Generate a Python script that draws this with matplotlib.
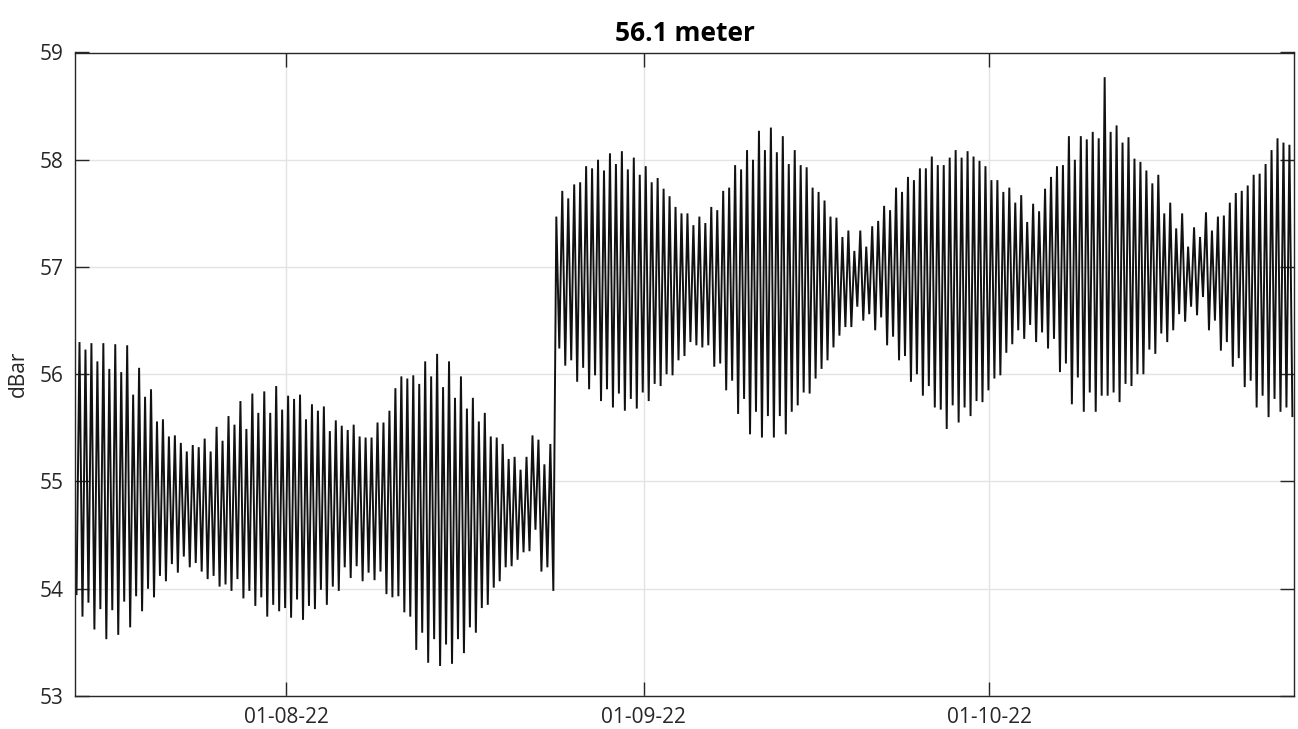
import numpy as np
import pandas as pd
import matplotlib
matplotlib.use("Agg")
import matplotlib.pyplot as plt
import matplotlib.dates as mdates

# Successive tidal turning points (dBar), first deployment: low water first
dep1_lows = [
    53.95, 53.74, 53.87, 53.62, 53.81, 53.53, 53.80, 53.57, 53.88, 53.64,
    53.93, 53.79, 54.00, 53.92, 54.12, 54.07, 54.23, 54.15, 54.30, 54.20,
    54.24, 54.16, 54.09, 54.12, 54.02, 54.04, 53.98,
    54.09, 53.91, 53.98, 53.84, 53.92, 53.74, 53.85, 53.79, 53.82, 53.73,
    53.90, 53.71, 53.84, 53.81, 53.99, 53.85, 54.02, 53.98, 54.20, 54.10,
    54.21, 54.07, 54.15, 54.08, 54.16, 53.95, 53.92,
    53.93, 53.78, 53.74, 53.43, 53.59, 53.31, 53.53, 53.28, 53.48, 53.30,
    53.53, 53.40, 53.64, 53.59, 53.82, 53.85, 54.01, 54.07, 54.20, 54.21,
    54.27, 54.34, 54.35, 54.55, 54.16, 54.20, 53.98,
]
dep1_highs = [
    56.30, 56.23, 56.29, 56.12, 56.29, 56.05, 56.28, 56.02, 56.27, 55.81,
    56.06, 55.79, 55.86, 55.56, 55.58, 55.42, 55.43, 55.36, 55.28, 55.34,
    55.32, 55.40, 55.28, 55.51, 55.38, 55.61, 55.53,
    55.75, 55.49, 55.82, 55.64, 55.84, 55.64, 55.89, 55.67, 55.80, 55.77,
    55.81, 55.58, 55.72, 55.66, 55.70, 55.47, 55.57, 55.52, 55.48, 55.53,
    55.42, 55.41, 55.41, 55.55, 55.55, 55.66, 55.87,
    55.98, 55.96, 55.99, 55.91, 56.12, 55.98, 56.19, 55.88, 56.12, 55.78,
    55.98, 55.68, 55.78, 55.56, 55.64, 55.42, 55.41, 55.35, 55.21, 55.23,
    55.11, 55.23, 55.43, 55.39, 55.16, 55.35,
]

# Second deployment: high water first
dep2_highs = [
    57.47, 57.71, 57.64, 57.77, 57.79, 57.94, 57.92, 58.00, 57.90, 58.06,
    57.96, 58.08, 57.91, 58.02, 57.86, 57.94, 57.79, 57.83, 57.73, 57.66,
    57.56, 57.50, 57.50, 57.39, 57.47, 57.41, 57.56,
    57.53, 57.71, 57.74, 57.95, 57.91, 58.09, 58.00, 58.27, 58.09, 58.30,
    58.07, 58.22, 57.96, 58.09, 57.95, 57.93, 57.74, 57.70, 57.62, 57.47,
    57.46, 57.28, 57.34, 57.15, 57.34, 57.19, 57.38,
    57.43, 57.57, 57.53, 57.74, 57.70, 57.84, 57.81, 57.92, 57.92, 58.03,
    57.95, 57.95, 58.02, 58.09, 58.02, 58.08, 58.03, 57.99, 57.94, 57.81,
    57.81, 57.70, 57.74, 57.60, 57.67, 57.42, 57.59,
    57.52, 57.73, 57.84, 57.94, 57.95, 58.22, 58.00, 58.22, 58.19, 58.26,
    58.20, 58.77, 58.26, 58.32, 58.16, 58.21, 58.01, 57.98, 57.90, 57.78,
    57.86, 57.50, 57.60, 57.36, 57.50, 57.19, 57.37,
    57.28, 57.51, 57.34, 57.47, 57.48, 57.60, 57.69, 57.71, 57.76, 57.86,
    57.87, 57.96, 58.09, 58.20, 58.16, 58.14,
]
dep2_lows = [
    56.24, 56.08, 56.13, 55.93, 56.06, 55.86, 55.99, 55.75, 55.86, 55.69,
    55.82, 55.66, 55.77, 55.68, 55.83, 55.75, 55.91, 55.89, 56.00, 55.99,
    56.13, 56.17, 56.30, 56.27, 56.25, 56.27, 56.07,
    56.10, 55.85, 55.94, 55.63, 55.77, 55.44, 55.65, 55.41, 55.61, 55.41,
    55.61, 55.44, 55.65, 55.71, 55.83, 55.82, 55.96, 56.05, 56.13, 56.25,
    56.36, 56.44, 56.44, 56.63, 56.50, 56.56,
    56.41, 56.53, 56.27, 56.35, 56.13, 56.17, 55.93, 56.00, 55.80, 55.89,
    55.69, 55.67, 55.49, 55.71, 55.55, 55.69, 55.61, 55.75, 55.74, 55.85,
    55.96, 55.99, 56.20, 56.28, 56.41, 56.33, 56.46,
    56.30, 56.39, 56.24, 56.33, 56.02, 56.10, 55.72, 55.97, 55.65, 55.83,
    55.65, 55.80, 55.80, 55.83, 55.74, 55.91, 55.89, 56.00, 56.00, 56.23,
    56.19, 56.38, 56.30, 56.41, 56.56, 56.49, 56.63,
    56.55, 56.72, 56.41, 56.50, 56.22, 56.30, 56.07, 56.15, 55.88, 55.94,
    55.69, 55.80, 55.60, 55.77, 55.65, 55.69, 55.61,
]

title_text = "56.1 meter"
y_label = "dBar"
y_ticks = [53, 54, 55, 56, 57, 58, 59]
date_ticks = ["2022-08-01", "2022-09-01", "2022-10-01"]

# Interleave turning points into one time series
seq1 = []
for i, lo in enumerate(dep1_lows):
    seq1.append(lo)
    if i < len(dep1_highs):
        seq1.append(dep1_highs[i])
seq2 = []
for hi, lo in zip(dep2_highs, dep2_lows):
    seq2.extend([hi, lo])
pressure = np.array(seq1 + seq2)

# Semidiurnal turning points, half an M2 period apart
times = pd.date_range("2022-07-13 18:30", periods=len(pressure),
                      freq=pd.Timedelta(hours=6.21))

plt.rcParams["font.family"] = ["Open Sans", "DejaVu Sans"]
axis_grey = "#262626"

fig = plt.figure(figsize=(12.98, 7.29), dpi=100)
ax = fig.add_axes([75 / 1298, 1 - 696 / 729, (1294 - 75) / 1298, (696 - 52.5) / 729])

ax.plot(times, pressure, color="#111111", lw=1.4, solid_joinstyle="miter")

ax.set_xlim(pd.Timestamp("2022-07-13 15:20"), pd.Timestamp("2022-10-27 11:30"))
ax.set_ylim(53, 59)
ax.set_yticks(y_ticks)
ax.set_xticks(pd.to_datetime(date_ticks))
ax.xaxis.set_major_formatter(mdates.DateFormatter("%d-%m-%y"))

ax.grid(True, color="#e3e3e3", lw=1.0)
ax.set_axisbelow(True)
for s in ax.spines.values():
    s.set_color(axis_grey)
    s.set_linewidth(1.0)
ax.tick_params(direction="in", length=10, width=1.0, color=axis_grey,
               labelcolor=axis_grey, labelsize=15, top=True, right=True, pad=8)

ax.set_ylabel(y_label, fontsize=15, color=axis_grey, labelpad=8)
ax.set_title(title_text, fontsize=19, fontweight="bold", color="black", pad=8)

fig.savefig("out.png", dpi=100)
